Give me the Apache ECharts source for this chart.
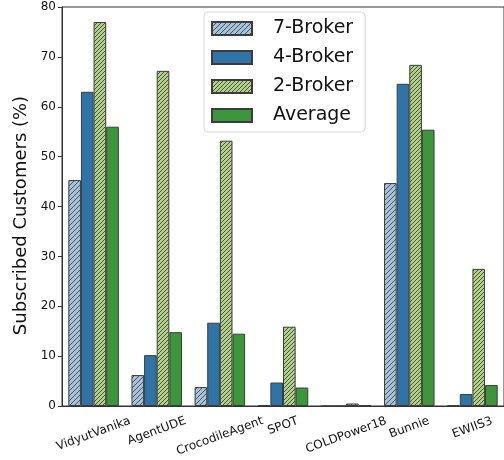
<!DOCTYPE html>
<html lang="en">
<head>
    <meta charset="UTF-8">
    <title>Subscribed Customers</title>
    <style>
        html, body { margin: 0; padding: 0; background: #fff; }
        #chart { width: 504px; height: 460px; }
    </style>
</head>
<body>
<div id="chart"></div>
<script src="https://cdn.jsdelivr.net/npm/echarts@6/dist/echarts.min.js"></script>
<script>
    var agents = ['VidyutVanika', 'AgentUDE', 'CrocodileAgent', 'SPOT', 'COLDPower18', 'Bunnie', 'EWIIS3'];
    var broker7 = [45.3, 6.2, 3.8, 0.2, 0, 44.7, 0.1];
    var broker4 = [63.0, 10.2, 16.7, 4.7, 0, 64.6, 2.4];
    var broker2 = [77.0, 67.2, 53.2, 15.9, 0.5, 68.4, 27.5];
    var average = [56.0, 14.8, 14.5, 3.7, 0.15, 55.4, 4.2];
    var yTicks = [0, 10, 20, 30, 40, 50, 60, 70, 80];

    // hatch fill, diagonal lines going up to the right
    function hatch(bg, line, size) {
        var c = document.createElement('canvas');
        c.width = size;
        c.height = size;
        var ctx = c.getContext('2d');
        ctx.fillStyle = bg;
        ctx.fillRect(0, 0, size, size);
        ctx.strokeStyle = line;
        ctx.lineWidth = 1;
        ctx.beginPath();
        for (var k = -1; k <= 1; k++) {
            ctx.moveTo(k * size, size);
            ctx.lineTo(k * size + size, 0);
        }
        ctx.stroke();
        return { image: c, repeat: 'repeat' };
    }

    // matplotlib centres each rotated label's box under its tick.
    // ECharts rotates around the tick, so add a spacer line above (pushes down)
    // and a spacer after the text (pulls left), sized per label.
    var rot = 20 * Math.PI / 180;
    var lineH = 14;
    var measureCtx = document.createElement('canvas').getContext('2d');
    measureCtx.font = '12px DejaVu Sans';
    var rich = { t: { fontFamily: 'DejaVu Sans', fontSize: 12, color: '#111', lineHeight: lineH } };
    agents.forEach(function (name, i) {
        var w = measureCtx.measureText(name).width;
        var yc = (w * Math.sin(rot) + lineH * Math.cos(rot)) / 2;
        var s = Math.max(1, yc * Math.cos(rot) - lineH / 2);
        rich['s' + i] = { fontSize: 1, lineHeight: s, height: s };
        rich['r' + i] = { fontSize: 1, width: 2 * yc * Math.sin(rot) };
    });

    var chart = echarts.init(document.getElementById('chart'));
    var edge = '#3c3c3c';

    function bar(name, data, color) {
        return {
            name: name,
            type: 'bar',
            data: data,
            barGap: '0%',
            barCategoryGap: '20%',
            itemStyle: { color: color, borderColor: edge, borderWidth: 1 },
            emphasis: { disabled: true }
        };
    }

    var option = {
        animation: false,
        grid: {
            left: 62, top: 7, bottom: 54, right: -4,
            show: true, borderColor: '#333', borderWidth: 1
        },
        legend: {
            orient: 'vertical',
            left: 204, top: 12,
            icon: 'rect',
            itemWidth: 40, itemHeight: 13,
            itemGap: 10,
            padding: [7, 12, 7, 7],
            borderColor: '#d8d8d8', borderWidth: 1, borderRadius: 4,
            textStyle: { fontFamily: 'DejaVu Sans', fontSize: 19, color: '#111', padding: [0, 0, 0, 16] },
            data: ['7-Broker', '4-Broker', '2-Broker', 'Average']
        },
        xAxis: {
            type: 'category',
            data: agents,
            axisLine: { lineStyle: { color: '#333' } },
            axisTick: { alignWithLabel: true, length: 4, lineStyle: { color: '#333' } },
            axisLabel: {
                interval: 0, rotate: 20, align: 'center', verticalAlign: 'top', margin: 8,
                fontFamily: 'DejaVu Sans', fontSize: 12, color: '#111',
                formatter: function (value, i) {
                    return '{s' + i + '| }\n{t|' + value + '}{r' + i + '| }';
                },
                rich: rich
            }
        },
        yAxis: {
            type: 'value',
            min: yTicks[0], max: yTicks[yTicks.length - 1], interval: 10,
            name: 'Subscribed Customers (%)',
            nameLocation: 'middle',
            nameGap: 15,
            nameTextStyle: { fontFamily: 'DejaVu Sans', fontSize: 18, color: '#111', padding: [0, 18, 0, 0] },
            axisLine: { show: true, lineStyle: { color: '#333' } },
            axisTick: { show: true, length: 4, lineStyle: { color: '#333' } },
            splitLine: { show: false },
            axisLabel: { fontFamily: 'DejaVu Sans', fontSize: 12, color: '#111', margin: 6 }
        },
        series: [
            bar('7-Broker', broker7, hatch('#a9c3d6', '#42556a', 5)),
            bar('4-Broker', broker4, '#2e74a8'),
            bar('2-Broker', broker2, hatch('#b4d08c', '#3f5a32', 4)),
            bar('Average', average, '#3c963a')
        ]
    };

    chart.setOption(option);
</script>
</body>
</html>
